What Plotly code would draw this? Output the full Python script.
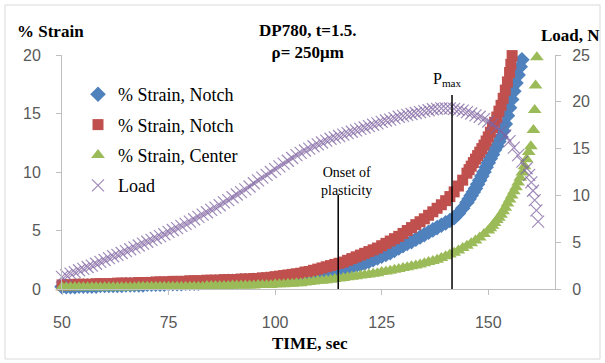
import plotly.graph_objects as go

# ---------------- data ----------------
T_MAIN = list(range(50, 160))  # 1 s sampling, 50..159

LOAD_MAIN = [1.3, 1.45, 1.65, 1.8, 2.0, 2.15, 2.35, 2.5, 2.7, 2.9,
             3.1, 3.3, 3.5, 3.65, 3.85, 4.05, 4.25, 4.45, 4.65, 4.85,
             5.05, 5.25, 5.45, 5.65, 5.85, 6.1, 6.3, 6.5, 6.75, 6.95,
             7.2, 7.45, 7.7, 7.95, 8.2, 8.45, 8.7, 8.95, 9.25, 9.5,
             9.8, 10.1, 10.35, 10.65, 10.95, 11.3, 11.6, 11.9, 12.2, 12.5,
             12.8, 13.1, 13.4, 13.7, 14.0, 14.3, 14.55, 14.8, 15.0, 15.25,
             15.45, 15.65, 15.85, 16.05, 16.2, 16.35, 16.5, 16.65, 16.8, 16.95,
             17.1, 17.25, 17.4, 17.55, 17.7, 17.85, 18.0, 18.1, 18.25, 18.4,
             18.5, 18.6, 18.7, 18.8, 18.9, 19.0, 19.1, 19.2, 19.25, 19.3,
             19.3, 19.3, 19.25, 19.15, 19.05, 18.9, 18.75, 18.55, 18.4, 18.15,
             17.9, 17.6, 17.25, 16.9, 16.4, 15.8, 15.1, 14.3, 13.6, 12.9]
T_LOAD_TAIL = [159.6, 160.1, 160.5, 160.9, 161.3, 161.7]
LOAD_TAIL = [12.2, 11.4, 10.5, 9.5, 8.4, 7.2]

RED_MAIN = [0.35, 0.35, 0.35, 0.4, 0.4, 0.4, 0.4, 0.4, 0.45, 0.45,
            0.45, 0.45, 0.45, 0.5, 0.5, 0.5, 0.5, 0.5, 0.55, 0.55,
            0.55, 0.55, 0.6, 0.6, 0.6, 0.6, 0.65, 0.65, 0.65, 0.65,
            0.7, 0.7, 0.7, 0.7, 0.75, 0.75, 0.75, 0.75, 0.8, 0.8,
            0.8, 0.8, 0.85, 0.85, 0.85, 0.9, 0.9, 0.95, 0.95, 1.0,
            1.05, 1.1, 1.15, 1.2, 1.25, 1.3, 1.35, 1.45, 1.5, 1.6,
            1.7, 1.8, 1.9, 2.0, 2.1, 2.2, 2.3, 2.45, 2.6, 2.75,
            2.9, 3.05, 3.2, 3.35, 3.5, 3.7, 3.9, 4.1, 4.3, 4.5,
            4.75, 5.0, 5.25, 5.5, 5.75, 6.0, 6.3, 6.6, 6.9, 7.2,
            7.55, 7.9, 8.3, 8.8, 9.3]
T_RED_TAIL = [145, 145.5, 146, 146.5, 147, 147.5, 148, 148.5, 149, 149.5,
              150, 150.5, 151, 151.5, 152, 152.5, 153, 153.5, 154, 154.5,
              155, 155.3, 155.6]
RED_TAIL = [9.9, 10.2, 10.5, 10.8, 11.1, 11.4, 11.7, 12.0, 12.3, 12.65,
            13.0, 13.4, 13.8, 14.25, 14.7, 15.2, 15.7, 16.3, 17.0, 17.7,
            18.5, 19.2, 19.95]

BLUE_MAIN = [0.2, 0.2, 0.2, 0.2, 0.25, 0.25, 0.25, 0.25, 0.25, 0.3,
             0.3, 0.3, 0.3, 0.3, 0.3, 0.35, 0.35, 0.35, 0.35, 0.35,
             0.4, 0.4, 0.4, 0.4, 0.4, 0.45, 0.45, 0.45, 0.45, 0.5,
             0.5, 0.5, 0.5, 0.55, 0.55, 0.55, 0.6, 0.6, 0.6, 0.65,
             0.65, 0.65, 0.7, 0.7, 0.7, 0.75, 0.75, 0.8, 0.8, 0.85,
             0.85, 0.9, 0.95, 1.0, 1.05, 1.1, 1.15, 1.2, 1.25, 1.3,
             1.35, 1.4, 1.45, 1.5, 1.55, 1.6, 1.7, 1.8, 1.9, 2.0,
             2.1, 2.2, 2.35, 2.5, 2.65, 2.8, 2.95, 3.1, 3.3, 3.5,
             3.7, 3.9, 4.05, 4.25, 4.45, 4.65, 4.85, 5.05, 5.25, 5.45,
             5.65, 5.85, 6.1, 6.45, 6.9]
T_BLUE_TAIL = [145, 145.5, 146, 146.5, 147, 147.5, 148, 148.5, 149, 149.5,
               150, 150.5, 151, 151.5, 152, 152.5, 153, 153.5, 154, 154.5,
               155, 155.5, 156, 156.5, 157, 157.5, 157.9]
BLUE_TAIL = [7.4, 7.7, 8.0, 8.3, 8.6, 8.95, 9.3, 9.65, 10.0, 10.4,
             10.8, 11.15, 11.5, 11.9, 12.2, 12.6, 13.0, 13.5, 14.1, 14.8,
             15.5, 16.2, 16.9, 17.6, 18.3, 19.0, 19.6]

GREEN_MAIN = [0.15, 0.15, 0.15, 0.15, 0.15, 0.15, 0.15, 0.15, 0.15, 0.15,
              0.15, 0.15, 0.15, 0.15, 0.15, 0.15, 0.15, 0.15, 0.2, 0.2,
              0.2, 0.2, 0.2, 0.2, 0.2, 0.2, 0.2, 0.2, 0.2, 0.2,
              0.2, 0.2, 0.2, 0.2, 0.25, 0.25, 0.25, 0.25, 0.25, 0.25,
              0.3, 0.3, 0.3, 0.3, 0.3, 0.3, 0.35, 0.35, 0.35, 0.35,
              0.4, 0.4, 0.4, 0.45, 0.45, 0.5, 0.5, 0.55, 0.6, 0.65,
              0.7, 0.7, 0.75, 0.8, 0.85, 0.9, 0.95, 1.0, 1.05, 1.1,
              1.15, 1.2, 1.25, 1.3, 1.35, 1.45, 1.5, 1.55, 1.65, 1.7,
              1.8, 1.85, 1.95, 2.0, 2.1, 2.2, 2.3, 2.4, 2.5, 2.65,
              2.8, 2.95, 3.1, 3.3, 3.5, 3.7, 3.9, 4.15, 4.4, 4.7]
T_GREEN_TAIL = [150, 150.5, 151, 151.5, 152, 152.5, 153, 153.5, 154, 154.5,
                155, 155.5, 156, 156.5, 157, 157.5, 158, 158.5, 159, 159.5,
                160, 160.6, 160.9, 161.1, 161.4]
GREEN_TAIL = [5.0, 5.2, 5.4, 5.65, 5.9, 6.1, 6.35, 6.65, 6.95, 7.3,
              7.65, 8.0, 8.35, 8.7, 9.1, 9.5, 9.95, 10.5, 11.1, 11.7,
              12.2, 13.6, 15.3, 17.4, 19.8]

X_TICKS = [50, 75, 100, 125, 150]
Y_TICKS = [0, 5, 10, 15, 20]
Y2_TICKS = [0, 5, 10, 15, 20, 25]
ONSET_T = 114.8
PMAX_T = 141.5

# ---------------- figure ----------------
SERIF = "Liberation Serif, Times New Roman, serif"
SANS = "Liberation Sans, Arial, sans-serif"
W, H = 605, 363
ML, MR, MT, MB = 62, 50, 55, 74
PW, PH = W - ML - MR, H - MT - MB


def px(xp):
    return (xp - ML) / PW


def py(yp):
    return (H - MB - yp) / PH


fig = go.Figure()
fig.add_trace(go.Scatter(
    x=T_MAIN[:95] + T_BLUE_TAIL, y=BLUE_MAIN + BLUE_TAIL, mode="markers",
    name="% Strain, Notch", cliponaxis=False, legendgroup="g1",
    marker=dict(symbol="diamond", size=12, color="#4F81BD", line=dict(width=0))))
fig.add_trace(go.Scatter(
    x=T_MAIN[:95] + T_RED_TAIL, y=RED_MAIN + RED_TAIL, mode="markers",
    name="% Strain, Notch", cliponaxis=False, legendgroup="g2",
    marker=dict(symbol="square", size=11, color="#C0504D", line=dict(width=0))))
fig.add_trace(go.Scatter(
    x=T_MAIN[:100] + T_GREEN_TAIL, y=GREEN_MAIN + GREEN_TAIL, mode="markers",
    name="% Strain, Center", cliponaxis=False, legendgroup="g3",
    marker=dict(symbol="triangle-up", size=12, color="#9BBB59", line=dict(width=0))))
fig.add_trace(go.Scatter(
    x=T_MAIN + T_LOAD_TAIL, y=LOAD_MAIN + LOAD_TAIL, mode="markers",
    name="Load", yaxis="y2", cliponaxis=False, legendgroup="g4",
    marker=dict(symbol="x-thin-open", size=12, color="#8064A2", opacity=0.75,
                line=dict(width=1.2, color="#8064A2"))))

axis_common = dict(showgrid=False, zeroline=False, showline=True,
                   linecolor="#BFBFBF", linewidth=1, ticks="outside",
                   ticklen=5, tickcolor="#BFBFBF",
                   tickfont=dict(family=SANS, size=16, color="#595959"))

fig.update_layout(
    width=W, height=H,
    margin=dict(l=ML, r=MR, t=MT, b=MB),
    paper_bgcolor="white", plot_bgcolor="white",
    showlegend=True,
    legend=dict(x=px(78), y=py(76), xanchor="left", yanchor="top",
                bgcolor="rgba(0,0,0,0)", traceorder="grouped", tracegroupgap=4,
                font=dict(family=SERIF, size=18, color="black"),
                itemwidth=30),
    xaxis=dict(range=[50, 50 + PW / 4.2625], tickvals=X_TICKS,
               ticklabelstandoff=14, **axis_common),
    yaxis=dict(range=[0, 20], tickvals=Y_TICKS, ticklabelstandoff=12,
               **axis_common),
    yaxis2=dict(range=[0, 25], tickvals=Y2_TICKS, overlaying="y", side="right",
                ticklabelstandoff=8, **axis_common),
    shapes=[
        dict(type="rect", xref="paper", yref="paper",
             x0=px(5), x1=px(600), y0=py(359), y1=py(5),
             line=dict(color="#D9D9D9", width=1)),
        dict(type="line", xref="x", yref="y", x0=ONSET_T, x1=ONSET_T,
             y0=0, y1=(H - MB - 195) / PH * 20, line=dict(color="black", width=1.5)),
        dict(type="line", xref="x", yref="y", x0=PMAX_T, x1=PMAX_T,
             y0=0, y1=(H - MB - 95) / PH * 20, line=dict(color="black", width=1.5)),
    ],
    annotations=[
        dict(text="<b>% Strain</b>", xref="paper", yref="paper",
             x=px(15), y=py(32), xanchor="left", yanchor="middle", showarrow=False,
             font=dict(family=SERIF, size=17, color="black")),
        dict(text="<b>Load, N</b>", xref="paper", yref="paper",
             x=px(602), y=py(35), xanchor="right", yanchor="middle", showarrow=False,
             font=dict(family=SERIF, size=17, color="black")),
        dict(text="<b>DP780, t=1.5.</b><br><b>ρ= 250μm</b>", xref="paper", yref="paper",
             x=px(308), y=py(42), xanchor="center", yanchor="middle", showarrow=False,
             font=dict(family=SERIF, size=17, color="black")),
        dict(text="<b>TIME, sec</b>", xref="paper", yref="paper",
             x=px(310), y=py(343), xanchor="center", yanchor="middle", showarrow=False,
             font=dict(family=SERIF, size=17, color="black")),
        dict(text="Onset of<br>plasticity", xref="paper", yref="paper",
             x=px(346), y=py(181), xanchor="center", yanchor="middle", showarrow=False,
             font=dict(family=SERIF, size=14, color="black")),
        dict(text="P<sub>max</sub>", xref="paper", yref="paper",
             x=px(447), y=py(80), xanchor="center", yanchor="middle", showarrow=False,
             font=dict(family=SERIF, size=16, color="black")),
    ],
)

fig.write_html("out.html")
